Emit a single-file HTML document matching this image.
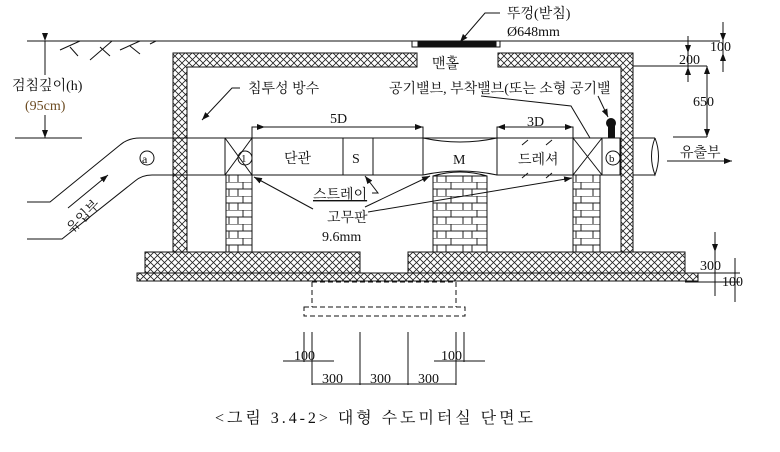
<!DOCTYPE html><html><head><meta charset="utf-8"><style>
body{margin:0;background:#fff}
text{font-family:"Liberation Serif","Noto Serif CJK SC","Noto Sans CJK KR",serif;fill:#111}
</style></head><body>
<svg width="780" height="447" viewBox="0 0 780 447" xmlns="http://www.w3.org/2000/svg">
<defs>
<pattern id="x" width="7" height="7" patternUnits="userSpaceOnUse">
<path d="M0,0L7,7M7,0L0,7" stroke="#222" stroke-width="0.8"/></pattern>
<pattern id="brick" width="26" height="14" patternUnits="userSpaceOnUse">
<rect width="26" height="14" fill="#fff"/>
<path d="M0,0H26M0,7H26M9,0V7M21,7V14M4,7V14" stroke="#222" stroke-width="1"/></pattern>
<marker id="a" markerWidth="8" markerHeight="6" refX="8" refY="3" orient="auto"><path d="M0,0L8,3L0,6z" fill="#111"/></marker>
</defs>
<g stroke="#111" fill="none" stroke-width="1">
<line x1="27" y1="41" x2="720" y2="41"/>
<path d="M60,50L80,41M70,47L78,56M90,60L112,41M100,47L110,56M120,50L140,41M130,46L140,54M150,44L156,41"/>
<line x1="45" y1="41" x2="45" y2="138" marker-start="url(#a)" marker-end="url(#a)"/>
<line x1="15" y1="138" x2="82" y2="138"/>
</g>
<rect x="10" y="75" width="82" height="40" fill="#fff"/>
<text x="12" y="90" font-size="14">검침깊이(h)</text>
<text x="25" y="110" font-size="14" style="fill:#6b4a20">(95cm)</text>
<g stroke="#111" stroke-width="1">
<path d="M173,53H417V67H187V252H173Z" fill="url(#x)"/>
<path d="M498,53H633V252H621V67H498Z" fill="url(#x)"/>
<rect x="145" y="252" width="215" height="21" fill="url(#x)"/>
<rect x="408" y="252" width="277" height="21" fill="url(#x)"/>
<rect x="137" y="273" width="561" height="8" fill="url(#x)"/>
<rect x="412" y="41" width="88" height="6" fill="#fff"/>
<rect x="418" y="42" width="78" height="4" fill="#111"/>
<rect x="226" y="175" width="26" height="77" fill="url(#brick)"/>
<rect x="433" y="176" width="54" height="76" fill="url(#brick)"/>
<rect x="573" y="175" width="27" height="77" fill="url(#brick)"/>
</g>
<g stroke="#111" fill="none" stroke-width="1">
<path d="M27,202H50L120,145Q128,138,140,138H620"/>
<path d="M27,239H62L135,181Q142,175,152,175H423"/>
<path d="M497,175H620"/>
<path d="M423,138Q460,146,497,138M423,175Q460,167,497,175"/>
<path d="M633,138H655M633,175H655M655,138Q662,156,655,175Q648,156,655,138"/>
<line x1="68" y1="208" x2="108" y2="175" marker-end="url(#a)"/>
<circle cx="147" cy="158" r="7"/>
<text x="142" y="163" font-size="12" stroke="none">a</text>
<rect x="225" y="138" width="27" height="37" fill="#fff"/>
<path d="M225,138L252,175M252,138L225,175"/>
<circle cx="245" cy="158" r="7"/>
<rect x="252" y="138" width="91" height="37"/>
<rect x="343" y="138" width="30" height="37"/>
<line x1="423" y1="138" x2="423" y2="175"/><line x1="497" y1="138" x2="497" y2="175"/>
<rect x="497" y="138" width="76" height="37"/>
<rect x="573" y="138" width="29" height="37"/>
<path d="M573,138L602,175M602,138L573,175"/>
<rect x="602" y="138" width="18" height="37"/>
<circle cx="613" cy="158" r="7"/>
<path d="M433,176Q460,168,487,176"/>
<path d="M522,145L528,140M546,145L552,140M522,178L528,173M546,178L552,173"/>
<path d="M252,138V127H423V138"/><line x1="252" y1="127" x2="265" y2="127" marker-end="url(#a)"/>
<line x1="410" y1="127" x2="423" y2="127" marker-end="url(#a)"/>
<path d="M497,138V127H573V138"/><line x1="510" y1="127" x2="497" y2="127" marker-end="url(#a)"/><line x1="560" y1="127" x2="573" y2="127" marker-end="url(#a)"/>
<path d="M240,88H232L202,120" marker-end="url(#a)"/>
<path d="M500,13H485L460,42" marker-end="url(#a)"/>
<path d="M481,96L571,106L590,138"/>
<path d="M598,96L608,117" marker-end="url(#a)"/>
<path d="M313,209L254,177" marker-end="url(#a)"/>
<path d="M372,193H378L365,176" marker-end="url(#a)"/>
<path d="M365,207L430,176" marker-end="url(#a)"/>
<path d="M368,212L572,178" marker-end="url(#a)"/>
<path d="M633,66H707M673,137H707M688,36V82M723,22V72M707,66V137"/>
<line x1="688" y1="41" x2="688" y2="53" marker-end="url(#a)"/>
<line x1="688" y1="78" x2="688" y2="67" marker-end="url(#a)"/>
<line x1="723" y1="28" x2="723" y2="41" marker-end="url(#a)"/>
<line x1="723" y1="64" x2="723" y2="53" marker-end="url(#a)"/>
<line x1="707" y1="120" x2="707" y2="137" marker-end="url(#a)"/>
<line x1="707" y1="82" x2="707" y2="66" marker-end="url(#a)"/>
<line x1="667" y1="161" x2="732" y2="161" marker-end="url(#a)"/>
<path d="M715,232V296M735,258V302M685,273H740M685,282H740"/>
<line x1="715" y1="240" x2="715" y2="252" marker-end="url(#a)"/>
<g stroke-dasharray="5,3">
<path d="M312,282V307M456,282V307M312,282H456"/>
<rect x="304" y="307" width="161" height="9"/>
</g>
<path d="M304,332V362M312,332V385M360,332V385M408,332V385M456,332V385M464,332V362"/>
<path d="M283,361H334M434,361H485M312,384H456"/>
</g>
<rect x="608" y="122" width="7" height="16" fill="#111"/>
<circle cx="611" cy="123" r="5" fill="#111"/>
<g font-size="14">
<text x="248" y="93">침투성 방수</text>
<text x="389" y="93">공기밸브, 부착밸브(또는 소형 공기밸</text>
<text x="507" y="18">뚜껑(받침)</text>
<text x="507" y="36">Ø648mm</text>
<text x="432" y="68">맨홀</text>
<text x="330" y="123">5D</text>
<text x="527" y="126">3D</text>
<text x="284" y="163">단관</text>
<text x="352" y="163">S</text>
<text x="453" y="164">M</text>
<text x="518" y="164">드레셔</text>
<text x="313" y="199" text-decoration="underline">스트레이</text>
<text x="327" y="222">고무판</text>
<text x="322" y="241">9.6mm</text>
<text x="680" y="157">유출부</text>
<text x="679" y="64">200</text>
<text x="693" y="106">650</text>
<text x="710" y="51">100</text>
<text x="700" y="270">300</text>
<text x="722" y="286">100</text>
<text x="294" y="360">100</text>
<text x="441" y="360">100</text>
<text x="322" y="383">300</text>
<text x="370" y="383">300</text>
<text x="418" y="383">300</text>
<text x="241" y="162" font-size="11">1</text>
<text x="609" y="162" font-size="11">b</text>
<text transform="translate(72,234) rotate(-45)">유입부</text>
<text x="215" y="423" font-size="16" textLength="318" lengthAdjust="spacing">&lt;그림 3.4-2&gt;   대형 수도미터실 단면도</text>
</g>
</svg>
</body></html>
